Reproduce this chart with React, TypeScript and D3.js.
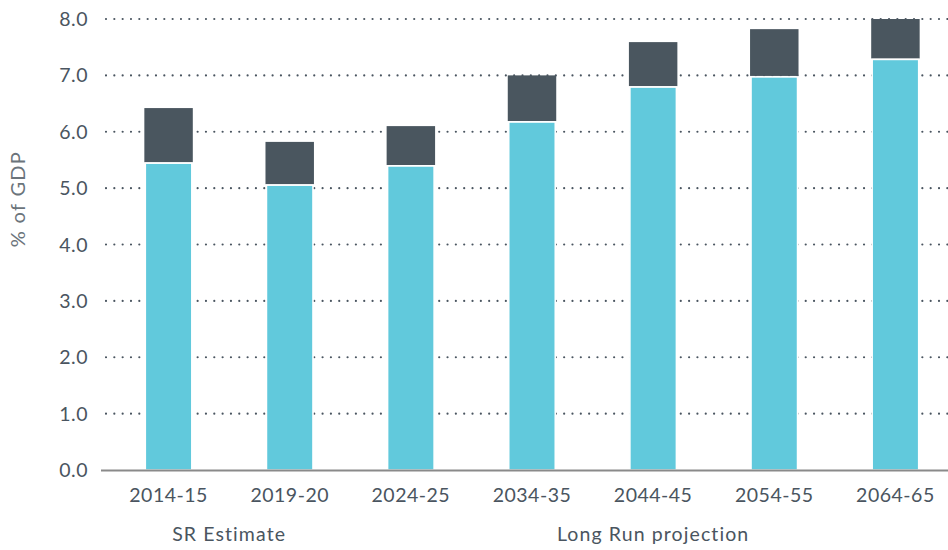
import React from "react";
import * as d3 from "d3";

const categories = ["2014-15", "2019-20", "2024-25", "2034-35", "2044-45", "2054-55", "2064-65"];
const baseValues = [5.46, 5.07, 5.41, 6.19, 6.81, 6.99, 7.30];
const topValues = [0.96, 0.75, 0.69, 0.81, 0.78, 0.83, 0.70];
const yTicks = [0, 1, 2, 3, 4, 5, 6, 7, 8];
const groupLabels = [
  { text: "SR Estimate", from: "2014-15", to: "2019-20" },
  { text: "Long Run projection", from: "2044-45", to: "2044-45" },
];

const W = 948;
const H = 550;
const FONT = "Lato, 'Open Sans', sans-serif";
const TEXT = "#4a5560";

export default function App() {
  const x = d3.scaleBand<string>().domain(categories).range([108, 956]).paddingInner(0.6).paddingOuter(0.3);
  const y = d3.scaleLinear().domain([0, 8]).range([470, 19]);
  const bw = x.bandwidth();
  return (
    <svg width={W} height={H} style={{ position: "absolute", left: 0, top: 0, background: "#fff" }}>
      {yTicks.map((t) => (
        <g key={t}>
          {t > 0 && (
            <line x1={106} x2={W} y1={y(t)} y2={y(t)} stroke="#4a5560" strokeWidth={2.2}
              strokeDasharray="0,8.33" strokeLinecap="round" />
          )}
          <text x={88} y={y(t)} dy="0.36em" textAnchor="end" fontFamily={FONT} fontSize={19.5}
            letterSpacing={0.5} fill={TEXT}>
            {t.toFixed(1)}
          </text>
        </g>
      ))}
      {categories.map((c, i) => {
        const x0 = x(c)!;
        const b = baseValues[i];
        const tt = b + topValues[i];
        return (
          <g key={c}>
            <rect x={x0} y={y(tt)} width={bw} height={y(b) - y(tt)} fill="#4a565f" />
            <rect x={x0 + 1} y={y(b) + 1} width={bw - 2} height={y(0) - y(b) - 1} fill="#61c9dc"
              stroke="#ffffff" strokeWidth={1.5} />
            <text x={x0 + bw / 2} y={502} textAnchor="middle" fontFamily={FONT} fontSize={19.5}
              letterSpacing={0.5} fill={TEXT}>
              {c}
            </text>
          </g>
        );
      })}
      <line x1={101} x2={W} y1={470.5} y2={470.5} stroke="#8a8a8a" strokeWidth={2} />
      {groupLabels.map((g) => {
        const cx = (x(g.from)! + x(g.to)! + bw) / 2;
        return (
          <text key={g.text} x={cx} y={541} textAnchor="middle" fontFamily={FONT} fontSize={19.5}
            letterSpacing={1.1} fill={TEXT}>
            {g.text}
          </text>
        );
      })}
      <text transform="translate(25,199) rotate(-90)" textAnchor="middle" fontFamily={FONT} fontSize={20}
        letterSpacing={1.3} fill="#6b747b">
        % of GDP
      </text>
    </svg>
  );
}
